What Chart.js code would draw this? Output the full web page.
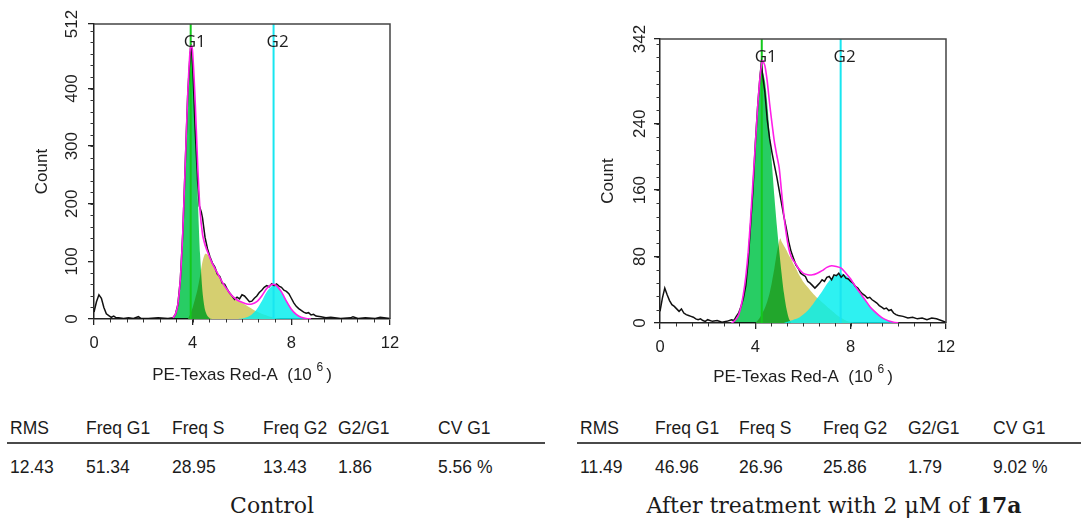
<!DOCTYPE html>
<html>
<head>
<meta charset="utf-8">
<script src="https://cdn.jsdelivr.net/npm/chart.js@4.4.1/dist/chart.umd.min.js"></script>
<style>
  html,body{margin:0;padding:0;background:#fff;}
  body{width:1081px;height:518px;position:relative;overflow:hidden;font-family:"Liberation Sans",Arial,sans-serif;color:#1b1b1b;}
  .plot{position:absolute;top:0;}
  .cell{position:absolute;font-size:17.5px;white-space:nowrap;transform:translateY(-50%);}
  .rule{position:absolute;height:2px;background:#4a4a4a;}
  .caption{position:absolute;font-family:"DejaVu Serif",serif;font-size:22px;transform:translate(-50%,-50%);white-space:nowrap;color:#1b1b1b;}
</style>
</head>
<body>
<canvas id="chartControl" class="plot" style="left:0" width="400" height="395"></canvas>
<canvas id="chartTreated" class="plot" style="left:560px" width="400" height="395"></canvas>
<div id="stats"></div>
<div class="caption" style="left:272px;top:505px">Control</div>
<div class="caption" style="left:834px;top:505px">After treatment with 2 μM of <b>17a</b></div>

<script>
// ---- data: [PE-Texas Red-A (10^6), count] ----
const markerNames = ['G1', 'G2'];
const xTicks = [0, 4, 8, 12];

// Control
const ctrlYTicks = [0, 100, 200, 300, 400, 512];
const ctrlMarkers = [3.92, 7.28];
const ctrlRaw = [[0,12],[0.1,30],[0.2,42],[0.3,36],[0.4,20],[0.5,9],[0.6,6],[0.7,3],[0.8,5],[0.9,2],[1.0,2],[1.2,1],[1.4,2],[1.6,1],[1.8,4],[1.9,1],[2.2,1],[2.6,2],[3.0,1],[3.2,2],[3.3,8],[3.4,25],[3.5,68],[3.6,150],[3.7,270],[3.8,390],[3.9,462],[3.95,470],[4.0,440],[4.1,330],[4.2,240],[4.27,196],[4.35,186],[4.4,175],[4.5,142],[4.6,122],[4.7,108],[4.8,97],[4.9,90],[5.0,78],[5.1,74],[5.2,62],[5.3,60],[5.4,52],[5.5,45],[5.6,40],[5.7,34],[5.8,38],[5.9,35],[6.0,42],[6.1,40],[6.2,35],[6.3,30],[6.4,31],[6.5,36],[6.6,40],[6.7,46],[6.8,50],[6.9,55],[7.0,58],[7.1,56],[7.2,61],[7.3,58],[7.4,61],[7.5,57],[7.6,55],[7.7,50],[7.8,48],[7.9,44],[8.0,36],[8.1,28],[8.2,22],[8.3,18],[8.4,15],[8.5,12],[8.6,10],[8.7,11],[8.8,7],[8.9,8],[9.0,5],[9.2,4],[9.4,2],[9.6,3],[10.0,1],[10.4,2],[10.5,4],[10.7,1],[11.0,2],[11.4,1],[11.6,3],[12,1]];
const ctrlFit = [[3.2,2],[3.3,8],[3.4,26],[3.5,69],[3.6,151],[3.7,269],[3.8,390],[3.9,469],[3.95,474],[4.0,462],[4.1,380],[4.2,271],[4.3,188],[4.4,147],[4.5,129],[4.6,117],[4.7,106],[4.8,96],[4.9,88],[5.0,80],[5.1,72],[5.2,64],[5.3,57],[5.4,51],[5.5,45],[5.6,40],[5.8,33],[6.0,29],[6.2,26],[6.4,26],[6.6,30],[6.8,40],[7.0,53],[7.2,60],[7.3,60],[7.4,58],[7.6,47],[7.8,31],[8.0,17],[8.2,8],[8.4,3],[8.6,1],[8.8,0]];
const ctrlG1 = [[3.1,0],[3.2,2],[3.3,8],[3.4,26],[3.5,69],[3.6,151],[3.7,269],[3.8,390],[3.9,461],[3.93,465],[4.0,442],[4.1,345],[4.2,219],[4.3,113],[4.4,47],[4.5,16],[4.6,5],[4.7,1],[4.8,0]];
const ctrlS = [[3.8,0],[3.9,8],[4.0,20],[4.1,35],[4.2,52],[4.3,75],[4.4,100],[4.5,113],[4.6,112],[4.7,105],[4.8,96],[4.9,88],[5.0,80],[5.1,72],[5.2,64],[5.3,57],[5.4,51],[5.5,45],[5.6,40],[5.8,33],[6.0,28],[6.2,23],[6.4,18],[6.6,13],[6.8,9],[7.0,6],[7.2,3],[7.4,1],[7.6,0]];
const ctrlG2 = [[5.8,0],[6.0,1],[6.2,3],[6.4,8],[6.6,17],[6.8,31],[7.0,47],[7.2,57],[7.3,58],[7.4,57],[7.6,47],[7.8,31],[8.0,17],[8.2,8],[8.4,3],[8.6,1],[8.8,0]];

// After treatment with 17a
const treatYTicks = [0, 80, 160, 240, 342];
const treatMarkers = [4.27, 7.58];
const treatRaw = [[0,14],[0.1,30],[0.2,42],[0.3,34],[0.4,27],[0.5,22],[0.6,20],[0.7,17],[0.8,14],[0.9,17],[1.0,12],[1.1,10],[1.2,9],[1.3,8],[1.4,7],[1.5,5],[1.6,4],[1.7,5],[1.8,3],[1.9,2],[2.0,4],[2.2,2],[2.4,3],[2.6,1],[2.8,2],[3.0,4],[3.1,3],[3.2,8],[3.3,12],[3.4,20],[3.5,30],[3.6,45],[3.7,75],[3.8,118],[3.9,160],[4.0,216],[4.1,262],[4.2,298],[4.25,312],[4.3,300],[4.4,278],[4.5,245],[4.6,222],[4.7,205],[4.8,190],[4.9,176],[5.0,160],[5.1,144],[5.2,128],[5.3,114],[5.4,98],[5.5,86],[5.6,78],[5.7,70],[5.8,66],[5.9,60],[6.0,58],[6.1,56],[6.2,50],[6.3,48],[6.4,45],[6.5,42],[6.6,45],[6.7,48],[6.8,52],[6.9,50],[7.0,55],[7.1,56],[7.2,52],[7.3,58],[7.4,57],[7.5,60],[7.6,55],[7.7,58],[7.8,54],[7.9,53],[8.0,50],[8.1,48],[8.2,44],[8.3,42],[8.4,38],[8.5,35],[8.6,33],[8.7,30],[8.8,31],[8.9,28],[9.0,26],[9.1,24],[9.2,21],[9.3,19],[9.4,17],[9.5,18],[9.6,15],[9.7,16],[9.8,12],[9.9,10],[10.0,9],[10.2,8],[10.4,6],[10.6,7],[10.8,5],[11.0,6],[11.2,4],[11.4,6],[11.6,5],[11.8,3],[12,1]];
const treatFit = [[3.0,0],[3.1,2],[3.2,5],[3.3,10],[3.4,20],[3.5,35],[3.6,56],[3.7,85],[3.8,125],[3.9,170],[4.0,215],[4.1,261],[4.2,297],[4.3,316],[4.4,310],[4.5,291],[4.6,264],[4.7,240],[4.8,218],[4.9,202],[5.0,187],[5.1,158],[5.2,129],[5.3,107],[5.4,90],[5.5,80],[5.6,75],[5.7,71],[5.8,66],[5.9,63],[6.0,60],[6.2,58],[6.4,58],[6.6,60],[6.8,63],[7.0,67],[7.2,69],[7.4,68],[7.6,66],[7.8,60],[8.0,53],[8.2,44],[8.4,36],[8.6,28],[8.8,20],[9.0,14],[9.2,9],[9.4,5],[9.6,2.5],[9.8,1],[10.0,0]];
const treatG1 = [[3.0,0],[3.1,2],[3.2,5],[3.3,10],[3.4,20],[3.5,35],[3.6,56],[3.7,85],[3.8,125],[3.9,170],[4.0,215],[4.1,258],[4.2,290],[4.27,305],[4.3,304],[4.4,292],[4.5,265],[4.6,228],[4.7,190],[4.8,152],[4.9,118],[5.0,88],[5.1,60],[5.2,36],[5.3,18],[5.4,6],[5.5,0]];
const treatS = [[4.0,0],[4.1,3],[4.2,7],[4.3,12],[4.4,18],[4.5,26],[4.6,36],[4.7,50],[4.8,66],[4.9,84],[5.0,98],[5.05,102],[5.1,98],[5.2,93],[5.3,88],[5.4,82],[5.5,77],[5.6,71],[5.7,66],[5.8,60],[5.9,55],[6.0,50],[6.2,43],[6.4,36],[6.6,30],[6.8,25],[7.0,20],[7.2,15],[7.4,10],[7.6,6],[7.8,3],[8.0,1],[8.2,0]];
const treatG2 = [[5.2,0],[5.4,2],[5.6,4],[5.8,6],[6.0,10],[6.2,15],[6.4,22],[6.6,30],[6.8,38],[7.0,47],[7.2,54],[7.4,58],[7.6,60],[7.8,57],[8.0,52],[8.2,44],[8.4,36],[8.6,28],[8.8,20],[9.0,14],[9.2,9],[9.4,5],[9.6,2.5],[9.8,1],[10.0,0]];

// table under each plot
const statHeaders = ['RMS', 'Freq G1', 'Freq S', 'Freq G2', 'G2/G1', 'CV G1'];
const ctrlStats = ['12.43', '51.34', '28.95', '13.43', '1.86', '5.56 %'];
const treatStats = ['11.49', '46.96', '26.96', '25.86', '1.79', '9.02 %'];

const FONT = '"Liberation Sans", Arial, sans-serif';
const INK = '#1e1e1e';

// multiply-blend the fill drawn right after a dataset flagged blendNext
const blendPlugin = {
  id: 'blend',
  beforeDatasetsDraw(chart){ chart.ctx.globalCompositeOperation = 'source-over'; },
  afterDatasetDraw(chart, args){
    const ds = chart.data.datasets[args.index];
    chart.ctx.globalCompositeOperation = ds.blendNext || 'source-over';
  },
  afterDatasetsDraw(chart){ chart.ctx.globalCompositeOperation = 'source-over'; }
};

// frame, minor ticks, rotated y labels, x title with superscript, G1/G2 labels
const decorPlugin = {
  id: 'decor',
  afterDraw(chart, args, o){
    const { ctx, chartArea: a, scales: { x, y } } = chart;
    ctx.save();
    ctx.strokeStyle = '#444';
    ctx.lineWidth = 1.5;
    ctx.beginPath();
    ctx.moveTo(a.left, a.top);
    ctx.lineTo(a.right, a.top);
    ctx.lineTo(a.right, a.bottom);
    ctx.stroke();

    ctx.strokeStyle = '#333';
    ctx.lineWidth = 1;
    ctx.beginPath();
    for(let k = 1; k * o.yMinor < y.max; k++){
      const py = Math.round(y.getPixelForValue(k * o.yMinor)) + 0.5;
      ctx.moveTo(a.left - 3.5, py); ctx.lineTo(a.left, py);
    }
    for(let k = 1; k * o.xMinor < x.max - 0.01; k++){
      const px = Math.round(x.getPixelForValue(k * o.xMinor)) + 0.5;
      ctx.moveTo(px, a.bottom); ctx.lineTo(px, a.bottom + 3.5);
    }
    ctx.stroke();

    ctx.fillStyle = INK;
    ctx.font = '17px ' + FONT;
    ctx.textAlign = 'center';
    ctx.textBaseline = 'middle';
    o.yTicks.forEach(v => {
      ctx.save();
      ctx.translate(a.left - o.yLabelGap, y.getPixelForValue(v));
      ctx.rotate(-Math.PI / 2);
      ctx.fillText(String(v), 0, 0);
      ctx.restore();
    });

    // x title: PE-Texas Red-A  (10 ^6)
    const main = 'PE-Texas Red-A  (10 ', sup = '6', tail = ')';
    const big = '17px ' + FONT, small = '12px ' + FONT;
    ctx.font = big;
    const wMain = ctx.measureText(main).width, wTail = ctx.measureText(tail).width;
    ctx.font = small;
    const wSup = ctx.measureText(sup).width + 3;
    let tx = (a.left + a.right) / 2 - (wMain + wSup + wTail) / 2;
    const ty = a.bottom + o.xTitleGap;
    ctx.textAlign = 'left';
    ctx.font = big;
    ctx.fillText(main, tx, ty);
    ctx.font = small;
    ctx.fillText(sup, tx + wMain, ty - 7);
    ctx.font = big;
    ctx.fillText(tail, tx + wMain + wSup, ty);

    ctx.textAlign = 'center';
    ctx.font = '17px "Open Sans", sans-serif';
    o.markers.forEach((m, i) => {
      ctx.fillText(markerNames[i], x.getPixelForValue(m) + 4, a.top + 18);
    });
    ctx.restore();
  }
};

function drawHisto(id, p){
  const fillBase = { fill: 'origin', borderColor: 'transparent', borderWidth: 0, pointRadius: 0, tension: 0.25 };
  const markerColors = ['#14c81c', '#18e6f0'];
  const datasets = [
    Object.assign({ label: 'S', data: p.s, backgroundColor: '#d5cf70', order: 6, blendNext: 'multiply' }, fillBase),
    Object.assign({ label: 'G1 fit', data: p.g1, backgroundColor: 'rgb(40,205,100)', order: 5 }, fillBase),
    Object.assign({ label: 'G2 fit', data: p.g2, backgroundColor: 'rgba(0,238,238,0.82)', order: 4 }, fillBase),
    ...p.markers.map((m, i) => ({
      label: markerNames[i], data: [[m, 0], [m, p.yTicks[p.yTicks.length - 1]]],
      borderColor: markerColors[i], borderWidth: 2, pointRadius: 0, fill: false, order: 3
    })),
    { label: 'Data', data: p.raw, borderColor: '#111', borderWidth: 1.5, pointRadius: 0, fill: false, tension: 0, order: 1 },
    { label: 'Fit', data: p.fit, borderColor: '#ff1ee8', borderWidth: 1.6, pointRadius: 0, fill: false, tension: 0.2, order: 0 }
  ];

  new Chart(document.getElementById(id), {
    type: 'line',
    data: { datasets },
    plugins: [blendPlugin, decorPlugin],
    options: {
      responsive: false,
      animation: false,
      layout: { padding: { left: 0, top: p.top, right: p.right, bottom: 0 } },
      plugins: {
        legend: { display: false },
        tooltip: { enabled: false },
        decor: { yTicks: p.yTicks, yMinor: p.yMinor, xMinor: 2 / 3, markers: p.markers, yLabelGap: p.yLabelGap, xTitleGap: p.xTitleGap }
      },
      scales: {
        x: {
          type: 'linear', min: 0, max: 12,
          afterBuildTicks: s => { s.ticks = xTicks.map(v => ({ value: v })); },
          ticks: { color: INK, font: { family: FONT, size: 16.5 }, padding: 9, maxRotation: 0 },
          grid: { drawOnChartArea: false, drawTicks: true, tickLength: 6, color: '#222', lineWidth: 1.3 },
          border: { display: true, color: '#222', width: 1.5 },
          afterFit: s => { s.height = p.xAxisH; s.paddingLeft = 0; s.paddingRight = 0; }
        },
        y: {
          type: 'linear', min: 0, max: p.yTicks[p.yTicks.length - 1],
          afterBuildTicks: s => { s.ticks = p.yTicks.map(v => ({ value: v })); },
          ticks: { display: false },
          grid: { drawOnChartArea: false, drawTicks: true, tickLength: 6, color: '#222', lineWidth: 1.3 },
          border: { display: true, color: '#222', width: 1.5 },
          title: { display: true, text: 'Count', color: INK, font: { family: FONT, size: 17 }, padding: { top: p.yTitlePad, bottom: 0 } },
          afterFit: s => { s.width = p.yAxisW; s.paddingTop = 0; s.paddingBottom = 0; }
        }
      }
    }
  });
}

drawHisto('chartControl', {
  raw: ctrlRaw, fit: ctrlFit, g1: ctrlG1, s: ctrlS, g2: ctrlG2,
  markers: ctrlMarkers, yTicks: ctrlYTicks, yMinor: 20,
  top: 24, right: 10, yAxisW: 94, xAxisH: 76, yLabelGap: 22, xTitleGap: 56, yTitlePad: 32
});
drawHisto('chartTreated', {
  raw: treatRaw, fit: treatFit, g1: treatG1, s: treatS, g2: treatG2,
  markers: treatMarkers, yTicks: treatYTicks, yMinor: 16,
  top: 39, right: 14, yAxisW: 100, xAxisH: 72, yLabelGap: 20, xTitleGap: 54, yTitlePad: 38
});

// stats tables
function drawStats(values, cols, ruleLeft, ruleRight){
  const box = document.getElementById('stats');
  const add = (cls, text, left, top) => {
    const el = document.createElement('div');
    el.className = cls;
    el.textContent = text;
    el.style.left = left + 'px';
    el.style.top = top + 'px';
    box.appendChild(el);
  };
  statHeaders.forEach((h, i) => add('cell', h, cols[i], 428));
  values.forEach((v, i) => add('cell', v, cols[i], 467));
  const rule = document.createElement('div');
  rule.className = 'rule';
  rule.style.left = ruleLeft + 'px';
  rule.style.width = (ruleRight - ruleLeft) + 'px';
  rule.style.top = '442px';
  box.appendChild(rule);
}
drawStats(ctrlStats, [10, 86, 172, 263, 338, 438], 7, 545);
drawStats(treatStats, [580, 655, 739, 823, 908, 993], 577, 1081);
</script>
</body>
</html>
